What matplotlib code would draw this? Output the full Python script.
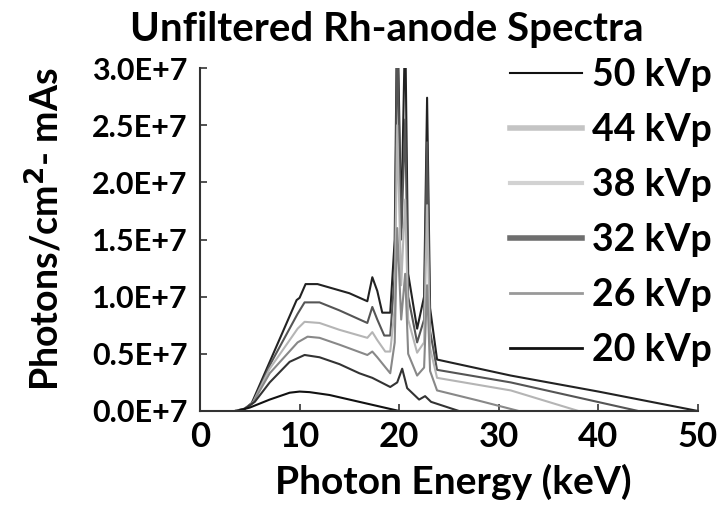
import matplotlib
matplotlib.use("Agg")
import matplotlib.pyplot as plt
from matplotlib.lines import Line2D

plt.rcParams['font.family'] = ['Lato', 'DejaVu Sans']
plt.rcParams['font.weight'] = 'bold'

# spectra, energy in keV, fluence in units of 1E+7 photons/cm2-mAs
e_50 = [3.5, 4.5, 5.2, 7, 9.7, 10.0, 10.6, 11.8, 13, 15, 16.8, 17.3, 17.8, 18.3, 19.1, 19.55, 19.8, 20.2, 20.6, 20.9,
        21.8, 22.5, 22.8, 23.1, 23.8, 31.2, 40, 50]
v_50 = [0, 0.02, 0.07, 0.43, 0.97, 0.99, 1.11, 1.11, 1.08, 1.03, 0.96, 1.17, 1.05, 0.86, 0.86, 1.5, 3.6, 1.6, 3.4, 1.2,
        0.72, 1.0, 2.74, 0.9, 0.45, 0.31, 0.17, 0]

e_44 = [3.5, 4.5, 5.3, 7, 9.8, 10.5, 12, 14, 16.8, 17.3, 17.8, 18.5, 19.1, 19.55, 19.8, 20.2, 20.6, 20.9,
        21.8, 22.5, 22.8, 23.1, 23.8, 31.2, 44]
v_44 = [0, 0.02, 0.07, 0.4, 0.85, 0.95, 0.95, 0.88, 0.77, 0.91, 0.8, 0.66, 0.66, 1.2, 3.3, 1.5, 2.55, 1.0,
        0.6, 0.8, 2.35, 0.7, 0.36, 0.25, 0]

e_38 = [3.5, 4.5, 5.3, 7, 9.8, 10.5, 12, 14, 16.8, 17.3, 17.8, 18.6, 19.1, 19.55, 19.8, 20.2, 20.6, 20.9,
        21.8, 22.5, 22.8, 23.1, 23.8, 31.2, 38]
v_38 = [0, 0.02, 0.07, 0.37, 0.72, 0.78, 0.77, 0.71, 0.64, 0.69, 0.62, 0.52, 0.52, 0.9, 2.5, 1.1, 1.85, 0.8,
        0.51, 0.6, 1.8, 0.55, 0.29, 0.18, 0]

e_32 = [3.5, 4.5, 5.3, 7, 9.8, 10.8, 12, 14, 16.8, 17.3, 17.8, 19.1, 19.55, 19.8, 20.2, 20.6, 20.9,
        21.8, 22.5, 22.8, 23.1, 23.8, 28, 32]
v_32 = [0, 0.02, 0.07, 0.33, 0.6, 0.65, 0.64, 0.58, 0.49, 0.52, 0.47, 0.33, 0.6, 1.6, 0.8, 1.2, 0.5,
        0.31, 0.38, 1.1, 0.35, 0.18, 0.09, 0]

e_26 = [3.7, 4.5, 5.5, 7, 9, 10.5, 12, 14, 16, 17.3, 19.1, 19.8, 20.3, 20.8, 22, 22.6, 23.2, 26]
v_26 = [0, 0.02, 0.08, 0.25, 0.43, 0.49, 0.47, 0.41, 0.33, 0.29, 0.21, 0.25, 0.37, 0.2, 0.1, 0.13, 0.08, 0]

e_20 = [3.7, 5, 7, 9, 10, 11, 13, 15, 17, 19, 20]
v_20 = [0, 0.03, 0.1, 0.16, 0.17, 0.165, 0.14, 0.1, 0.06, 0.02, 0]

labels = ["50 kVp", "44 kVp", "38 kVp", "32 kVp", "26 kVp", "20 kVp"]
yticks = [0, 0.5, 1.0, 1.5, 2.0, 2.5, 3.0]
ytick_labels = ["0.0E+7", "0.5E+7", "1.0E+7", "1.5E+7", "2.0E+7", "2.5E+7", "3.0E+7"]
xticks = [0, 10, 20, 30, 40, 50]

curves = [(e_50, v_50), (e_44, v_44), (e_38, v_38), (e_32, v_32), (e_26, v_26), (e_20, v_20)]
line_colors = ["#222222", "#555555", "#b5b5b5", "#888888", "#333333", "#111111"]
leg_colors = ["#111111", "#c4c4c4", "#d2d2d2", "#6e6e6e", "#999999", "#111111"]
leg_widths = [1.5, 4, 3, 4, 2, 2]

fig = plt.figure(figsize=(7.19, 5.07), dpi=100)
ax = fig.add_axes([200 / 719, 1 - 411 / 507, 498 / 719, 343 / 507])

for (e, v), c in zip(curves, line_colors):
    ax.plot(e, [x * 1e7 for x in v], color=c, lw=1.5, clip_on=True)

ax.set_xlim(0, 50)
ax.set_ylim(0, 3e7)
ax.set_xticks(xticks)
ax.set_xticklabels([str(t) for t in xticks])
ax.set_yticks([t * 1e7 for t in yticks])
ax.set_yticklabels(ytick_labels)
ax.tick_params(axis='both', direction='in', length=5, width=1.2, colors='#333333', labelcolor='black')
ax.tick_params(axis='y', labelsize=22, pad=9)
ax.tick_params(axis='x', labelsize=25, pad=7)
for s in ['top', 'right']:
    ax.spines[s].set_visible(False)
for s in ['left', 'bottom']:
    ax.spines[s].set_linewidth(1.5)
    ax.spines[s].set_color('#333333')

handles = [Line2D([], [], color=c, lw=w) for c, w in zip(leg_colors, leg_widths)]
leg = ax.legend(handles, labels, loc='upper left', bbox_to_anchor=(510 / 719, 1 - 58 / 507),
                bbox_transform=fig.transFigure, frameon=False, fontsize=27,
                handlelength=1.92, handletextpad=0.27, labelspacing=0.56,
                borderpad=0, borderaxespad=0)

fig.text(387 / 719, 1 - 30 / 507, "Unfiltered Rh-anode Spectra", ha='center', va='center',
         fontsize=29, fontweight='bold')
fig.text(453 / 719, 1 - 482 / 507, "Photon Energy (keV)", ha='center', va='center',
         fontsize=28, fontweight='bold')
fig.text(45 / 719, 1 - 229 / 507, "Photons/cm$^\\mathbf{2}$- mAs", ha='center', va='center',
         rotation=90, fontsize=27, fontweight='bold')

fig.savefig("out.png", dpi=100)
